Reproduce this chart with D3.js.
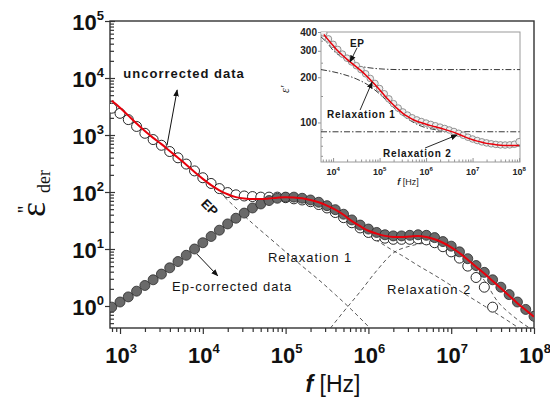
<!DOCTYPE html>
<html>
<head>
<meta charset="utf-8">
<script src="https://cdn.jsdelivr.net/npm/d3@7"></script>
<style>
  body { margin: 0; background: #fff; }
  svg { display: block; font-family: Arial, "Liberation Sans", sans-serif; }
</style>
</head>
<body>
<svg id="chart"></svg>
<script>
// *********************************************
// DATA (frequencies and values as log10 exponents)
// *********************************************
var freqExp = [2.9,3.0,3.1,3.2,3.3,3.4,3.5,3.6,3.7,3.8,3.9,4.0,4.1,4.2,4.3,4.4,4.5,4.6,4.7,4.8,4.9,
  5.0,5.1,5.2,5.3,5.4,5.5,5.6,5.7,5.8,5.9,6.0,6.1,6.2,6.3,6.4,6.5,6.6,6.7,6.8,6.9,
  7.0,7.1,7.2,7.3,7.4,7.5,7.6,7.7,7.8,7.9,8.0];

// uncorrected data (open circles), stops at 10^7.5
var uncorrectedExp = [3.47,3.38,3.27,3.15,3.03,2.92,2.82,2.71,2.60,2.49,2.37,2.25,2.15,2.06,1.99,1.95,1.93,1.92,1.91,1.91,1.91,
  1.90,1.88,1.86,1.83,1.78,1.72,1.64,1.55,1.46,1.37,1.29,1.23,1.19,1.17,1.17,1.17,1.18,1.16,1.11,1.04,
  0.95,0.84,0.70,0.50,0.33,-0.02];

// Ep-corrected data (filled circles)
var correctedExp = [-0.02,0.07,0.16,0.26,0.36,0.46,0.56,0.67,0.78,0.89,1.00,1.11,1.22,1.33,1.44,1.54,1.63,1.72,1.79,1.85,1.89,
  1.91,1.91,1.89,1.86,1.82,1.76,1.69,1.61,1.51,1.42,1.35,1.29,1.25,1.23,1.23,1.24,1.25,1.24,1.20,1.13,
  1.05,0.95,0.83,0.71,0.59,0.46,0.33,0.20,0.07,-0.06,-0.18];

// fit (red line)
var fitExp = [3.60,3.48,3.34,3.20,3.07,2.95,2.84,2.72,2.60,2.48,2.35,2.23,2.12,2.03,1.96,1.91,1.885,1.875,1.875,1.885,1.90,
  1.91,1.905,1.89,1.86,1.82,1.76,1.69,1.60,1.49,1.40,1.32,1.27,1.23,1.21,1.21,1.22,1.23,1.21,1.17,1.11,
  1.03,0.93,0.81,0.69,0.57,0.44,0.31,0.18,0.05,-0.07,-0.19];

// model components (dashed)
var epFreq = [4.2,4.4,4.6,4.8,5.0,5.2,5.4,5.6,5.8,6.02];
var epExp  = [2.0,1.72,1.45,1.2,0.95,0.70,0.46,0.20,-0.07,-0.39];
var rel1Freq = [4.7,4.8,4.9,5.0,5.2,5.4,5.6,5.8,5.9,6.0,6.1,6.2,6.3,6.4,6.6,6.8,7.0,7.2,7.4,7.6,7.82];
var rel1Exp  = [1.79,1.85,1.88,1.89,1.85,1.76,1.62,1.44,1.35,1.25,1.15,1.06,0.97,0.89,0.71,0.54,0.36,0.18,0.0,-0.18,-0.39];
var rel2Freq = [5.54,5.7,5.9,6.1,6.3,6.5,6.7,6.8,6.9,7.0,7.2,7.4,7.55,7.75,7.95];
var rel2Exp  = [-0.39,-0.10,0.25,0.62,0.93,1.05,1.10,1.10,1.07,0.99,0.76,0.45,0.10,-0.18,-0.39];

// inset: eps' vs f
var insetFreqExp = [3.8,3.9,4.0,4.1,4.2,4.3,4.4,4.5,4.6,4.7,4.8,4.9,5.0,5.1,5.2,5.3,5.4,5.5,5.6,5.7,5.8,5.9,
  6.0,6.1,6.2,6.3,6.4,6.5,6.6,6.7,6.8,6.9,7.0,7.1,7.2,7.3,7.4,7.5,7.6,7.7,7.8,7.9,8.0];
var insetDataExp = [2.595,2.556,2.520,2.486,2.455,2.428,2.403,2.378,2.352,2.324,2.293,2.260,2.226,2.191,2.157,2.125,2.096,2.070,2.049,2.031,2.017,2.006,
  1.996,1.987,1.978,1.969,1.960,1.950,1.940,1.928,1.915,1.902,1.890,1.880,1.871,1.864,1.858,1.854,1.851,1.850,1.851,1.855,1.872];
var insetFitExp = [2.585,2.548,2.512,2.477,2.447,2.420,2.395,2.370,2.345,2.316,2.285,2.252,2.217,2.182,2.148,2.116,2.087,2.061,2.040,2.022,2.008,1.998,
  1.988,1.979,1.971,1.963,1.954,1.944,1.934,1.922,1.909,1.896,1.885,1.876,1.868,1.861,1.856,1.852,1.849,1.847,1.846,1.846,1.846];
var insEpFreq = [3.74,3.87,4.0,4.2,4.43,4.73,5.1,5.44,8.02];
var insEpExp  = [2.57,2.531,2.48,2.433,2.386,2.366,2.355,2.352,2.352];
var insRel1Freq = [3.74,4.15,4.5,4.75,5.0,5.3,5.6,5.9,6.2,6.5,6.8,8.02];
var insRel1Exp  = [2.352,2.326,2.29,2.25,2.19,2.10,2.025,1.975,1.952,1.942,1.939,1.938];
var insRel2Freq = [3.74,6.4,6.6,6.8,7.0,7.2,7.4,7.7,8.02];
var insRel2Exp  = [1.938,1.938,1.932,1.912,1.888,1.866,1.853,1.846,1.844];

// tick labels
var xTickExp = [3,4,5,6,7,8];
var yTickExp = [0,1,2,3,4,5];
var insXTickExp = [4,5,6,7,8];
var insYTicks = [100,200,300,400];

function pts(fx, vx) { return fx.map(function(f, i) { return [Math.pow(10, f), Math.pow(10, vx[i])]; }); }

// *********************************************
// SETUP
// *********************************************
var width = 550, height = 401;
var svg = d3.select("#chart").attr("width", width).attr("height", height);

var x = d3.scaleLog().domain([Math.pow(10, 2.879), 1e8]).range([110, 534]);
var y = d3.scaleLog().domain([Math.pow(10, -0.386), 1e5]).range([328, 21]);

var defs = svg.append("defs");
defs.append("clipPath").attr("id", "clip")
  .append("rect").attr("x", 110).attr("y", 21).attr("width", 424).attr("height", 307);
defs.append("marker").attr("id", "arrow").attr("viewBox", "0 0 10 10")
    .attr("refX", 9).attr("refY", 5).attr("markerWidth", 7).attr("markerHeight", 7)
    .attr("orient", "auto-start-reverse").attr("markerUnits", "userSpaceOnUse")
  .append("path").attr("d", "M0,1 L10,5 L0,9 z").attr("fill", "#111");

function minors(lo, hi) {
  var out = [];
  for (var d = lo; d <= hi; d++)
    for (var m = 2; m <= 9; m++) out.push(m * Math.pow(10, d));
  return out;
}

// *********************************************
// MAIN AXES
// *********************************************
var xMaj = xTickExp.map(function(e) { return Math.pow(10, e); });
var yMaj = yTickExp.map(function(e) { return Math.pow(10, e); });
var xMin = minors(2, 7).filter(function(v) { return v >= x.domain()[0] && v <= 1e8; });
var yMin = minors(-1, 4).filter(function(v) { return v >= y.domain()[0] && v <= 1e5; });

function noDomain(g) { g.select(".domain").remove(); g.selectAll("line").attr("stroke", "#333").attr("stroke-width", 1.2); }

svg.append("g").attr("transform", "translate(0,328)")
  .call(d3.axisBottom(x).tickValues(xMaj).tickFormat("").tickSizeInner(6).tickSizeOuter(0)).call(noDomain);
svg.append("g").attr("transform", "translate(0,328)")
  .call(d3.axisBottom(x).tickValues(xMin).tickFormat("").tickSizeInner(4).tickSizeOuter(0)).call(noDomain);
svg.append("g").attr("transform", "translate(110,0)")
  .call(d3.axisLeft(y).tickValues(yMaj).tickFormat("").tickSizeInner(5).tickSizeOuter(0)).call(noDomain);
svg.append("g").attr("transform", "translate(110,0)")
  .call(d3.axisLeft(y).tickValues(yMaj).tickFormat("").tickSizeInner(-5).tickSizeOuter(0)).call(noDomain);
svg.append("g").attr("transform", "translate(110,0)")
  .call(d3.axisLeft(y).tickValues(yMin).tickFormat("").tickSizeInner(-4).tickSizeOuter(0)).call(noDomain);

svg.append("rect").attr("x", 110).attr("y", 21).attr("width", 424).attr("height", 307)
  .attr("fill", "none").attr("stroke", "#333").attr("stroke-width", 1.4);

var xl = svg.selectAll(".xl").data(xTickExp).enter().append("text")
  .attr("x", function(d) { return x(Math.pow(10, d)) + 1; }).attr("y", 363)
  .attr("text-anchor", "middle").attr("font-size", 22).attr("font-weight", "bold").attr("fill", "#111");
xl.append("tspan").text("10");
xl.append("tspan").attr("dy", -10).attr("font-size", 13).text(function(d) { return d; });

var yl = svg.selectAll(".yl").data(yTickExp).enter().append("text")
  .attr("x", 104).attr("y", function(d) { return y(Math.pow(10, d)) + 9; })
  .attr("text-anchor", "end").attr("font-size", 22).attr("font-weight", "bold").attr("fill", "#111");
yl.append("tspan").text("10");
yl.append("tspan").attr("dy", -10).attr("font-size", 13).text(function(d) { return d; });

// axis titles
var xt = svg.append("text").attr("x", 333).attr("y", 392).attr("text-anchor", "middle")
  .attr("font-size", 23).attr("fill", "#111");
xt.append("tspan").attr("font-style", "italic").attr("font-weight", "bold").text("f");
xt.append("tspan").text(" [Hz]");

var yt = svg.append("g").attr("transform", "translate(45,217) rotate(-90)")
  .attr("font-family", "'Liberation Serif', 'DejaVu Serif', serif").attr("fill", "#111");
yt.append("text").attr("x", 0).attr("y", 0).attr("font-size", 36).text("\u03B5");
yt.append("text").attr("x", 4).attr("y", -13).attr("font-size", 20).text("''");
yt.append("text").attr("x", 24).attr("y", 5).attr("font-size", 18).text("der");

// *********************************************
// MAIN DATA
// *********************************************
var line = d3.line().x(function(d) { return x(d[0]); }).y(function(d) { return y(d[1]); }).curve(d3.curveMonotoneX);
var plot = svg.append("g").attr("clip-path", "url(#clip)");

[[epFreq, epExp], [rel1Freq, rel1Exp], [rel2Freq, rel2Exp]].forEach(function(s) {
  plot.append("path").datum(pts(s[0], s[1])).attr("d", line)
    .attr("fill", "none").attr("stroke", "#444").attr("stroke-width", 0.9).attr("stroke-dasharray", "4,3");
});

plot.selectAll(".open").data(pts(freqExp.slice(0, uncorrectedExp.length), uncorrectedExp)).enter()
  .append("circle").attr("cx", function(d) { return x(d[0]); }).attr("cy", function(d) { return y(d[1]); })
  .attr("r", 5).attr("fill", "#fff").attr("stroke", "#111").attr("stroke-width", 0.9);

plot.selectAll(".filled").data(pts(freqExp, correctedExp)).enter()
  .append("circle").attr("cx", function(d) { return x(d[0]); }).attr("cy", function(d) { return y(d[1]); })
  .attr("r", 5).attr("fill", "#6a6a6a").attr("stroke", "#2a2a2a").attr("stroke-width", 0.8);

plot.append("path").datum(pts(freqExp, fitExp)).attr("d", line)
  .attr("fill", "none").attr("stroke", "#e8000b").attr("stroke-width", 2);

// annotations (placed in data coordinates)
function P(fe, ve) { return [x(Math.pow(10, fe)), y(Math.pow(10, ve))]; }
function arrow(a, b) {
  svg.append("line").attr("x1", a[0]).attr("y1", a[1]).attr("x2", b[0]).attr("y2", b[1])
    .attr("stroke", "#111").attr("stroke-width", 1).attr("marker-end", "url(#arrow)");
}
function label(p, txt, size, bold, spacing) {
  return svg.append("text").attr("x", p[0]).attr("y", p[1]).attr("font-size", size)
    .attr("font-weight", bold ? "bold" : "normal").attr("letter-spacing", spacing).attr("fill", "#151515").text(txt);
}
label(P(3.04, 4.0), "uncorrected data", 13, true, 1);
arrow(P(3.568, 2.82), P(3.69, 3.79));
var ep = P(4.087, 1.737);
svg.append("text").attr("transform", "translate(" + ep[0] + "," + ep[1] + ") rotate(45)")
  .attr("text-anchor", "middle").attr("dy", 5).attr("font-size", 13).attr("font-weight", "bold")
  .attr("fill", "#151515").text("EP");
label(P(3.628, 0.263), "Ep-corrected data", 13, false, 1);
arrow(P(3.93, 0.91), P(4.18, 0.53));
label(P(4.787, 0.772), "Relaxation 1", 13, false, 1);
label(P(6.225, 0.21), "Relaxation 2", 13, false, 1);

// *********************************************
// INSET
// *********************************************
var ix = d3.scaleLog().domain([Math.pow(10, 3.74), Math.pow(10, 8.02)]).range([321, 520]);
var iy = d3.scaleLog().domain([Math.pow(10, 1.737), 400]).range([162, 32]);
defs.append("clipPath").attr("id", "iclip")
  .append("rect").attr("x", 321).attr("y", 32).attr("width", 199).attr("height", 130);

var ixMin = minors(3, 7).filter(function(v) { return v >= ix.domain()[0] && v <= ix.domain()[1]; });
function thin(g) { g.select(".domain").remove(); g.selectAll("line").attr("stroke", "#777").attr("stroke-width", 0.8); }
svg.append("g").attr("transform", "translate(0,162)")
  .call(d3.axisBottom(ix).tickValues(insXTickExp.map(function(e) { return Math.pow(10, e); }))
    .tickFormat("").tickSizeInner(-4).tickSizeOuter(0)).call(thin);
svg.append("g").attr("transform", "translate(0,162)")
  .call(d3.axisBottom(ix).tickValues(ixMin).tickFormat("").tickSizeInner(-2.5).tickSizeOuter(0)).call(thin);
svg.append("g").attr("transform", "translate(321,0)")
  .call(d3.axisLeft(iy).tickValues(insYTicks).tickFormat("").tickSizeInner(3).tickSizeOuter(0)).call(thin);
svg.append("g").attr("transform", "translate(321,0)")
  .call(d3.axisLeft(iy).tickValues([60,70,80,90,150,250,350]).tickFormat("").tickSizeInner(-2).tickSizeOuter(0)).call(thin);
svg.append("rect").attr("x", 321).attr("y", 32).attr("width", 199).attr("height", 130)
  .attr("fill", "none").attr("stroke", "#9a9a9a").attr("stroke-width", 1);

svg.selectAll(".iyl").data(insYTicks).enter().append("text")
  .attr("x", 317).attr("y", function(d) { return iy(d) + 3.5; }).attr("text-anchor", "end")
  .attr("font-size", 10).attr("font-weight", "bold").attr("fill", "#222").text(function(d) { return d; });
var ixl = svg.selectAll(".ixl").data(insXTickExp).enter().append("text")
  .attr("x", function(d) { return ix(Math.pow(10, d)); }).attr("y", 175).attr("text-anchor", "middle")
  .attr("font-size", 9).attr("font-weight", "bold").attr("fill", "#222");
ixl.append("tspan").text("10");
ixl.append("tspan").attr("dy", -4).attr("font-size", 6).text(function(d) { return d; });
var ixt = svg.append("text").attr("x", 408).attr("y", 185).attr("text-anchor", "middle")
  .attr("font-size", 9).attr("fill", "#222");
ixt.append("tspan").attr("font-style", "italic").attr("font-weight", "bold").text("f");
ixt.append("tspan").text(" [Hz]");
svg.append("text").attr("transform", "translate(289,93) rotate(-90)")
  .attr("font-family", "'Liberation Serif', serif").attr("font-style", "italic")
  .attr("font-size", 12).attr("fill", "#222").text("\u03B5'");

var iline = d3.line().x(function(d) { return ix(d[0]); }).y(function(d) { return iy(d[1]); }).curve(d3.curveMonotoneX);
var inset = svg.append("g").attr("clip-path", "url(#iclip)");
[[insEpFreq, insEpExp], [insRel1Freq, insRel1Exp], [insRel2Freq, insRel2Exp]].forEach(function(s) {
  inset.append("path").datum(pts(s[0], s[1])).attr("d", iline)
    .attr("fill", "none").attr("stroke", "#222").attr("stroke-width", 0.9).attr("stroke-dasharray", "6,2,1.5,2");
});
inset.selectAll(".ic").data(pts(insetFreqExp, insetDataExp)).enter().append("circle")
  .attr("cx", function(d) { return ix(d[0]); }).attr("cy", function(d) { return iy(d[1]); })
  .attr("r", 3.3).attr("fill", "#eee").attr("stroke", "#7a7a7a").attr("stroke-width", 0.8);
inset.append("path").datum(pts(insetFreqExp, insetFitExp)).attr("d", iline)
  .attr("fill", "none").attr("stroke", "#e8000b").attr("stroke-width", 1.5);

function IP(fe, ve) { return [ix(Math.pow(10, fe)), iy(Math.pow(10, ve))]; }
function iarrow(a, b) {
  svg.append("line").attr("x1", a[0]).attr("y1", a[1]).attr("x2", b[0]).attr("y2", b[1])
    .attr("stroke", "#111").attr("stroke-width", 0.9).attr("marker-end", "url(#arrow)");
}
label(IP(4.366, 2.504), "EP", 10, true, 0.5);
iarrow(IP(4.516, 2.497), IP(4.366, 2.404));
label(IP(3.871, 2.03), "Relaxation 1", 10, true, 0.8);
iarrow(IP(4.581, 2.083), IP(4.839, 2.269));
label(IP(5.075, 1.770), "Relaxation 2", 10, true, 0.8);
iarrow(IP(5.978, 1.830), IP(6.667, 1.917));
</script>
</body>
</html>
